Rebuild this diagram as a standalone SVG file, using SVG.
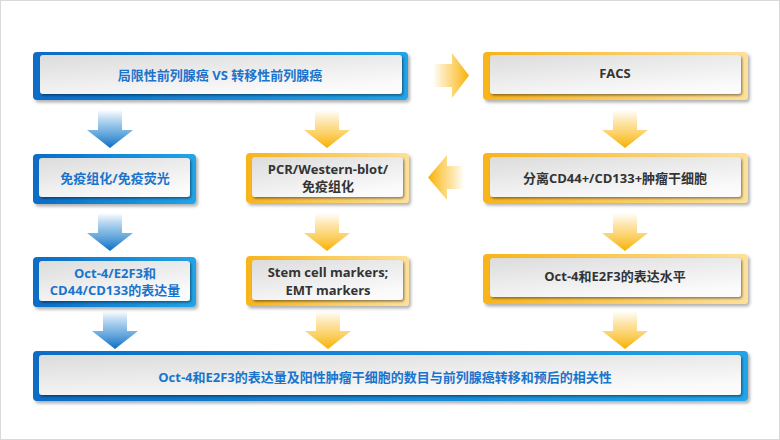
<svg xmlns="http://www.w3.org/2000/svg" width="780" height="440" viewBox="0 0 780 440">
<defs>
<linearGradient id="gBlue" x1="0" y1="0" x2="1" y2="0">
<stop offset="0" stop-color="#0a6cc6"/><stop offset="1" stop-color="#22a4e8"/>
</linearGradient>
<linearGradient id="gYel" x1="0" y1="0" x2="1" y2="0">
<stop offset="0" stop-color="#f8b41c"/><stop offset="1" stop-color="#fde09a"/>
</linearGradient>
<linearGradient id="gPanel" x1="0" y1="0" x2="0.6" y2="1">
<stop offset="0" stop-color="#dcdcdc"/><stop offset="1" stop-color="#fbfbfb"/>
</linearGradient>
<linearGradient id="aBlue" x1="0" y1="0" x2="0" y2="1">
<stop offset="0" stop-color="#2a86d4" stop-opacity="0"/><stop offset="0.5" stop-color="#4a9ad8" stop-opacity="0.7"/><stop offset="1" stop-color="#0a6cc4"/>
</linearGradient>
<linearGradient id="aYel" x1="0" y1="0" x2="0" y2="1">
<stop offset="0" stop-color="#fbc233" stop-opacity="0"/><stop offset="0.5" stop-color="#fbc84a" stop-opacity="0.7"/><stop offset="1" stop-color="#f7b000"/>
</linearGradient>
<linearGradient id="aYelR" x1="0" y1="0" x2="1" y2="0">
<stop offset="0" stop-color="#fbc233" stop-opacity="0"/><stop offset="0.5" stop-color="#fbc84a" stop-opacity="0.7"/><stop offset="1" stop-color="#f7b000"/>
</linearGradient>
<linearGradient id="aYelL" x1="1" y1="0" x2="0" y2="0">
<stop offset="0" stop-color="#fbc233" stop-opacity="0"/><stop offset="0.5" stop-color="#fbc84a" stop-opacity="0.7"/><stop offset="1" stop-color="#f7b000"/>
</linearGradient>
<filter id="sh" x="-5%" y="-20%" width="110%" height="150%">
<feDropShadow dx="2" dy="2.5" stdDeviation="1.5" flood-color="#000" flood-opacity="0.3"/>
</filter>
<filter id="ish" x="-5%" y="-20%" width="110%" height="150%">
<feDropShadow dx="1.2" dy="1.5" stdDeviation="0.8" flood-color="#000" flood-opacity="0.45"/>
</filter>
<path id="down" d="M-12,0 H12 V20 H23 L0,38 L-23,20 H-12 Z"/>
</defs>
<style>
.ob{fill:url(#gBlue);filter:url(#sh)}
.oy{fill:url(#gYel);filter:url(#sh)}
.pn{fill:url(#gPanel);filter:url(#ish)}
text{font-family:"Open Sans","Noto Sans CJK SC","Noto Sans",sans-serif;font-weight:bold;font-size:13px;text-anchor:middle}
.tb{fill:#1b74cc}
.ty{fill:#333333}
.ab{fill:url(#aBlue)}
.ay{fill:url(#aYel)}
</style>
<rect x="0.5" y="0.5" width="779" height="439" fill="#ffffff" stroke="#d9d9d9"/>

<g id="connectors">
<use href="#down" class="ab" x="110" y="110"/>
<use href="#down" class="ay" x="327" y="110"/>
<use href="#down" class="ay" x="625" y="110"/>
<use href="#down" class="ab" x="110" y="213"/>
<use href="#down" class="ay" x="327" y="213"/>
<use href="#down" class="ay" x="625" y="213"/>
<use href="#down" class="ab" x="115" y="311"/>
<use href="#down" class="ay" x="328" y="311"/>
<use href="#down" class="ay" x="625" y="311"/>
<path d="M433,64 H452 V53 L469,75.5 L452,98 V87 H433 Z" fill="url(#aYelR)"/>
<path d="M464,166 H447 V155 L428,177.5 L447,200 V189 H464 Z" fill="url(#aYelL)"/>
</g>

<g id="n1">
<rect class="ob" x="33" y="52" width="375" height="48" rx="4"/>
<rect class="pn" x="40" y="55" width="362" height="39" rx="3"/>
<text class="tb" x="220" y="79.5">局限性前列腺癌 VS 转移性前列腺癌</text>
</g>
<g id="n2">
<rect class="oy" x="483" y="52" width="265" height="48" rx="4"/>
<rect class="pn" x="490" y="55" width="251" height="39" rx="3"/>
<text class="ty" x="615" y="78">FACS</text>
</g>
<g id="n3">
<rect class="ob" x="33" y="154" width="163" height="50" rx="4"/>
<rect class="pn" x="39" y="158" width="151" height="39" rx="3"/>
<text class="tb" x="115" y="182.5">免疫组化/免疫荧光</text>
</g>
<g id="n4">
<rect class="oy" x="246" y="153" width="163" height="50" rx="4"/>
<rect class="pn" x="252" y="157" width="151" height="40" rx="3"/>
<text class="ty" x="328" y="174">PCR/Western-blot/</text>
<text class="ty" x="328" y="191">免疫组化</text>
</g>
<g id="n5">
<rect class="oy" x="483" y="153" width="265" height="50" rx="4"/>
<rect class="pn" x="490" y="157" width="251" height="40" rx="3"/>
<text class="ty" x="615" y="182.5">分离CD44+/CD133+肿瘤干细胞</text>
</g>
<g id="n6">
<rect class="ob" x="33" y="257" width="163" height="50" rx="4"/>
<rect class="pn" x="39" y="261" width="151" height="40" rx="3"/>
<text class="tb" x="115" y="277.5">Oct-4/E2F3和</text>
<text class="tb" x="115" y="295">CD44/CD133的表达量</text>
</g>
<g id="n7">
<rect class="oy" x="246" y="256" width="163" height="50" rx="4"/>
<rect class="pn" x="252" y="260" width="151" height="40" rx="3"/>
<text class="ty" x="328" y="276.5">Stem cell markers;</text>
<text class="ty" x="328" y="294.5">EMT markers</text>
</g>
<g id="n8">
<rect class="oy" x="483" y="254" width="265" height="50" rx="4"/>
<rect class="pn" x="490" y="258" width="251" height="39" rx="3"/>
<text class="ty" x="615" y="280.5">Oct-4和E2F3的表达水平</text>
</g>
<g id="n9">
<rect class="ob" x="33" y="351" width="715" height="50" rx="4"/>
<rect class="pn" x="39" y="355" width="702" height="40" rx="3"/>
<text class="tb" x="385" y="381.5">Oct-4和E2F3的表达量及阳性肿瘤干细胞的数目与前列腺癌转移和预后的相关性</text>
</g>
</svg>
